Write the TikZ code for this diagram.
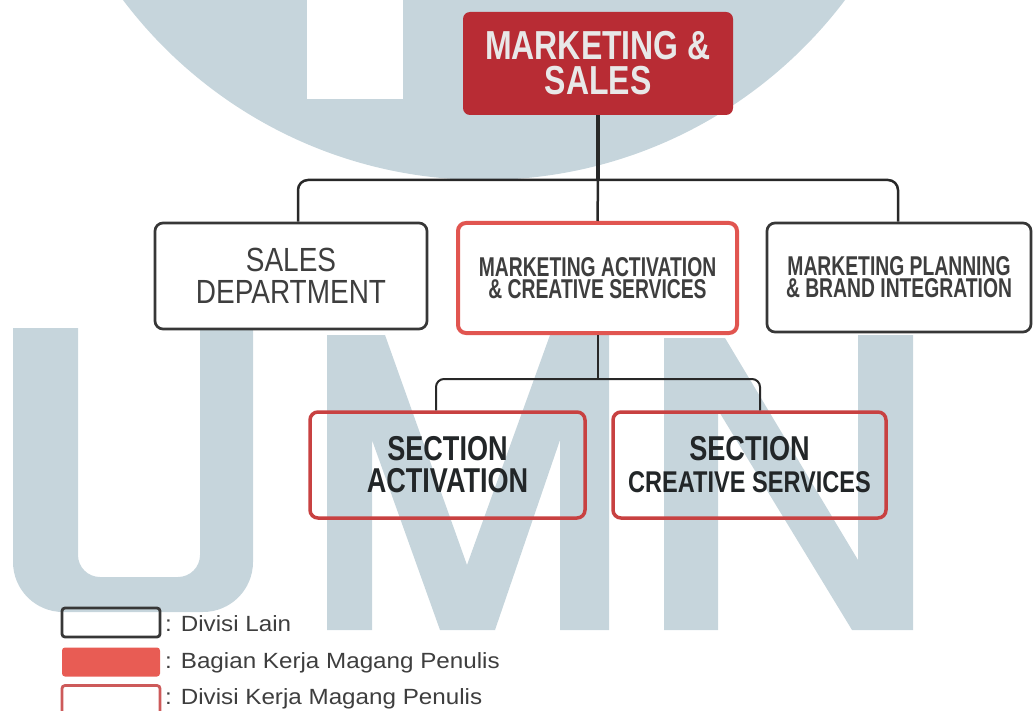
\documentclass[tikz,border=0pt]{standalone}
\usepackage{fontspec}
\setmainfont{Liberation Sans}
\newfontfamily\cnTop{Liberation Sans Bold}[FakeStretch=0.79]
\newfontfamily\cnSales{Liberation Sans}[FakeStretch=0.835]
\newfontfamily\cnMid{Liberation Sans Bold}[FakeStretch=0.71]
\newfontfamily\cnSec{Liberation Sans Bold}[FakeStretch=0.785]
\newfontfamily\legfont{Liberation Sans}[FakeStretch=1.1]
\definecolor{wm}{RGB}{198,213,220}
\definecolor{topred}{RGB}{184,44,52}
\definecolor{toptext}{RGB}{232,232,232}
\definecolor{linedark}{RGB}{40,40,40}
\definecolor{boxgray}{RGB}{55,55,55}
\definecolor{textgray}{RGB}{62,62,62}
\definecolor{mared}{RGB}{225,85,80}
\definecolor{secred}{RGB}{200,65,65}
\definecolor{legred}{RGB}{232,92,84}
\definecolor{legredline}{RGB}{205,90,90}
\definecolor{secText}{RGB}{34,38,40}
\tikzset{
  topbox/.style={fill=topred, rounded corners=7pt, inner sep=0pt, align=center,
    text=toptext, font=\cnTop\fontsize{40.5}{35}\selectfont},
  graybox/.style={draw=boxgray, line width=2.7pt, rounded corners=8pt, inner sep=0pt, align=center},
  redbox/.style={draw=mared, line width=4pt, rounded corners=8pt, inner sep=0pt, align=center},
  secbox/.style={draw=secred, line width=3.5pt, rounded corners=8pt, inner sep=0pt, align=center,
    text=secText},
  conn/.style={draw=linedark, line width=2.5pt},
  conntop/.style={draw=linedark, line width=4pt},
  connlow/.style={draw=linedark, line width=2pt},
  legbox/.style={minimum width=98pt, minimum height=29pt, inner sep=0pt, rounded corners=3pt, line width=2.8pt},
  legtext/.style={anchor=base west, inner sep=0pt, text=textgray, font=\legfont\fontsize{22}{26}\selectfont}
}
\begin{document}
\begin{tikzpicture}[x=1pt,y=-1pt]
\useasboundingbox (0,0) rectangle (1035,711);
% watermark
\begin{scope}
\clip (0,0) rectangle (1035,711);
\fill[wm] (484,-272) circle[radius=452pt];
\fill[white] (307,0) rectangle (403,99);
\fill[wm] (13,328) [rounded corners=50pt] -- (13,612) -- (253,612) [sharp corners] -- (253,328) -- (200,328) [rounded corners=22pt] -- (200,577) -- (78,577) [sharp corners] -- (78,328) -- cycle;
\fill[wm] (327,630) -- (327,335) -- (385,335) -- (467,565) -- (550,335) -- (609,335) -- (609,630) -- (560,630) -- (560,440) -- (495,630) -- (440,630) -- (372,440) -- (372,630) -- cycle;
\fill[wm] (664,630) -- (664,338) -- (725,338) -- (858,560) -- (858,335) -- (913,335) -- (913,630) -- (852,630) -- (718,410) -- (718,630) -- cycle;
\end{scope}
% boxes
\node[topbox, minimum width=270pt, minimum height=103pt] (top) at (598,63.5) {MARKETING \&\\SALES};
\node[graybox, minimum width=272pt, minimum height=106pt, text=textgray,
  font=\cnSales\fontsize{33.5}{32}\selectfont] (sales) at (291,276) {SALES\\DEPARTMENT};
\node[redbox, minimum width=279pt, minimum height=110pt, text=textgray,
  font=\cnMid\fontsize{27.2}{22}\selectfont] (ma) at (597.5,278) {MARKETING ACTIVATION\\\& CREATIVE SERVICES};
\node[graybox, minimum width=264pt, minimum height=109pt, text=textgray,
  font=\cnMid\fontsize{27.2}{22}\selectfont] (mp) at (899,277.5) {MARKETING PLANNING\\\& BRAND INTEGRATION};
\node[secbox, minimum width=275pt, minimum height=106pt,
  font=\cnSec\fontsize{34.5}{32}\selectfont] (sa) at (447.5,465) {SECTION\\ACTIVATION};
\node[secbox, minimum width=273pt, minimum height=106pt,
  font=\cnSec\fontsize{34.5}{32}\selectfont] (scs) at (749.5,465) {SECTION\\{\fontsize{30}{32}\selectfont CREATIVE SERVICES}};
% connectors
\coordinate (j1) at (598,180);
\draw[conntop] (top.south) -- (j1);
\draw[conn, rounded corners=10pt] ([xshift=7pt]sales.north) |- (j1) -| ([xshift=-1pt]mp.north);
\draw[conn] (j1) -- (ma.north);
\coordinate (j2) at (597.5,379);
\draw[connlow] (ma.south) -- (j2);
\draw[connlow, rounded corners=8pt] ([xshift=-11.5pt]sa.north) |- (j2) -| ([xshift=10.5pt]scs.north);
% legend
\node[legbox, draw=boxgray] (l1) at (111,622.5) {};
\node[legbox, fill=legred] (l2) at (111,662) {};
\node[legbox, draw=legredline] (l3) at (111,700) {};
\node[legtext] (t1) at (165,631) {: Divisi Lain};
\node[legtext] (t2) at (165,668) {: Bagian Kerja Magang Penulis};
\node[legtext] (t3) at (165,704) {: Divisi Kerja Magang Penulis};
\end{tikzpicture}
\end{document}
